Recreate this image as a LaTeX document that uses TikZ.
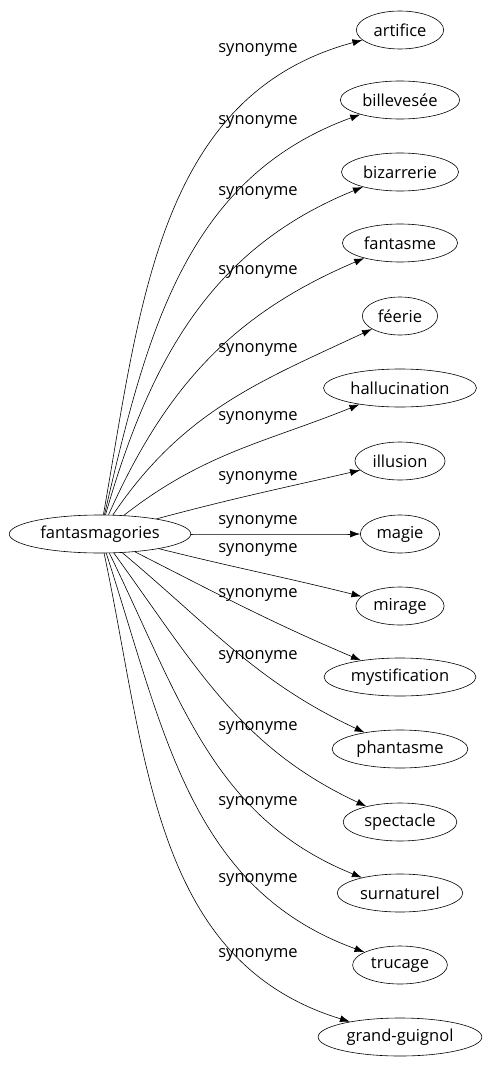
\documentclass[tikz,border=0pt]{standalone}
\usepackage{fontspec}
\setmainfont{Open Sans}
\usetikzlibrary{shapes.geometric,arrows.meta}
\begin{document}
\begin{tikzpicture}[x=1pt,y=-1pt,
    word/.style={draw,ellipse,line width=0.6pt,inner xsep=4.5pt,inner ysep=0pt,minimum height=38pt,font=\fontsize{16.5}{18}\selectfont},
    rel/.style={font=\fontsize{16.5}{18}\selectfont},
    link/.style={line width=0.6pt,-{Latex[length=10pt,width=7pt]}}]
    \useasboundingbox (0,0) rectangle (496,1067);
    % Source
    \node[word] (fan) at (100,534) {fantasmagories};
    % Synonyms
    \foreach \name/\txt/\y in {artifice/artifice/30, billevesee/billevesée/100,
        bizarrerie/bizarrerie/172, fantasme/fantasme/243, feerie/féerie/316,
        hallucination/hallucination/388, illusion/illusion/461, magie/magie/534,
        mirage/mirage/606, mystification/mystification/677, phantasme/phantasme/749,
        spectacle/spectacle/822, surnaturel/surnaturel/893, trucage/trucage/965,
        grandguignol/grand-guignol/1037}
        \node[word] (\name) at (400,\y) {\txt};
    % Edges
    \foreach \name/\o/\i/\ly in {artifice/80/195/50, billevesee/77/200/122,
        bizarrerie/74/202/193, fantasme/66/203/272, feerie/56/205/350,
        hallucination/38/202/418, illusion/15/193/478, magie/0/180/522,
        mirage/-14/166/550, mystification/-27/157/595, phantasme/-40/155/657,
        spectacle/-54/155/728, surnaturel/-64/158/803, trucage/-72/160/880,
        grandguignol/-78/163/955}
    {
        \draw[link] (fan) to[out=\o,in=\i] (\name);
        \node[rel] (lab-\name) at (258,\ly) {synonyme};
    }
\end{tikzpicture}
\end{document}
